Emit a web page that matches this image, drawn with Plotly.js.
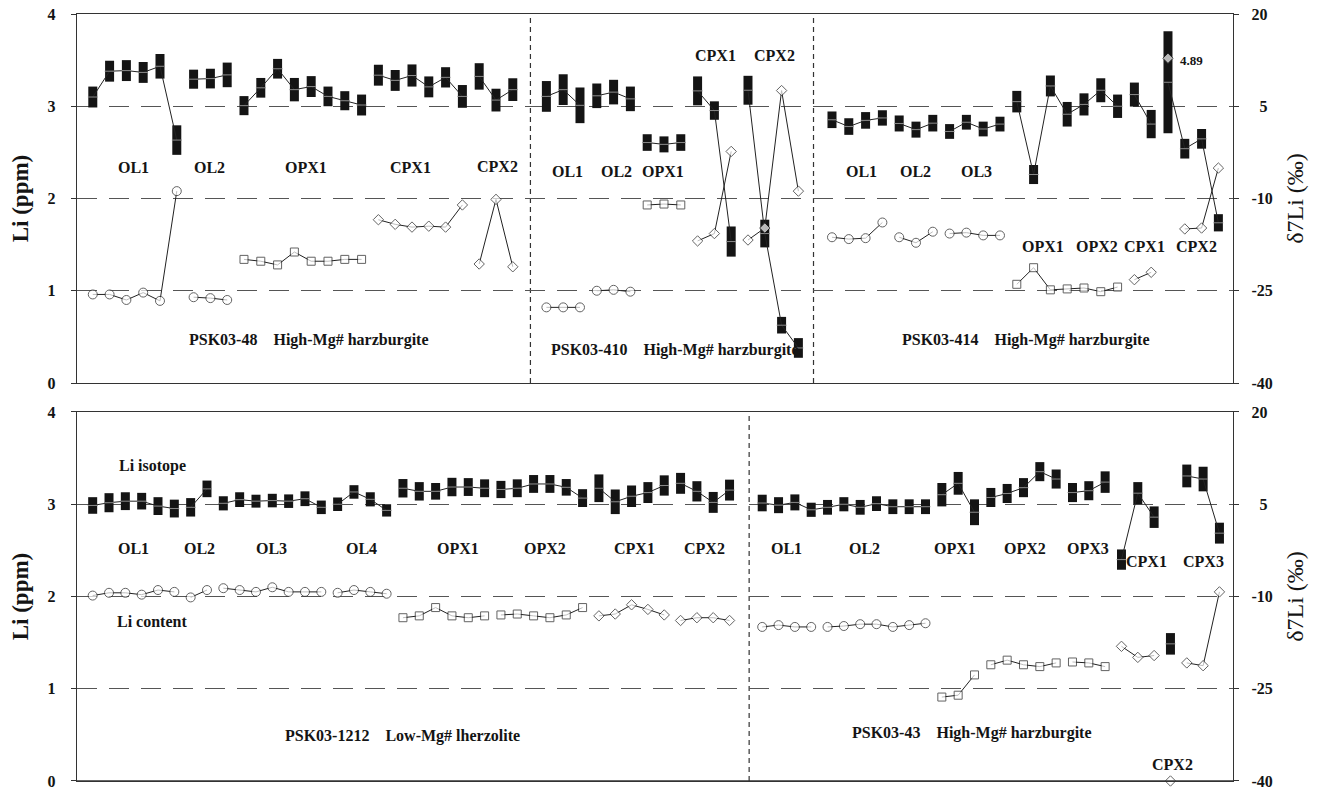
<!DOCTYPE html>
<html>
<head>
<meta charset="utf-8">
<script src="https://cdn.plot.ly/plotly-3.0.1.min.js"></script>
<style>html,body{margin:0;padding:0;background:#fff;overflow:hidden;}#chart{width:1320px;height:790px;}</style>
</head>
<body>
<div id="chart"></div>
<script>
// ---------------- TOP PANEL (PSK03-48 | PSK03-410 | PSK03-414) ----------------
const topPos = [1,2,3,4,5,6, 7,8,9, 10,11,12,13,14,15,16,17, 18,19,20,21,22,23, 24,25,26,
  28,29,30, 31,32,33, 34,35,36, 37,38,39, 40,41,42,43,
  45,46,47,48, 49,50,51, 52,53,54,55, 56,57,58,59,60,61,62, 63,64, 65,66,67,68];
const topMineral = ['OL','OL','OL','OL','OL','OL', 'OL','OL','OL', 'OPX','OPX','OPX','OPX','OPX','OPX','OPX','OPX', 'CPX','CPX','CPX','CPX','CPX','CPX', 'CPX','CPX','CPX',
  'OL','OL','OL', 'OL','OL','OL', 'OPX','OPX','OPX', 'CPX','CPX','CPX', 'CPX','CPX','CPX','CPX',
  'OL','OL','OL','OL', 'OL','OL','OL', 'OL','OL','OL','OL', 'OPX','OPX','OPX','OPX','OPX','OPX','OPX', 'CPX','CPX', 'CPX','CPX','CPX','CPX'];
const topLi = [0.96,0.96,0.90,0.98,0.89,2.08, 0.93,0.92,0.90, 1.34,1.32,1.28,1.42,1.32,1.32,1.34,1.34, 1.77,1.72,1.69,1.70,1.69,1.93, 1.29,1.99,1.26,
  0.82,0.82,0.82, 1.00,1.01,0.99, 1.93,1.94,1.93, 1.54,1.62,2.51, 1.55,1.68,3.17,2.08,
  1.58,1.56,1.57,1.74, 1.58,1.52,1.64, 1.62,1.63,1.60,1.60, 1.07,1.25,1.01,1.02,1.03,0.99,1.04, 1.12,1.20, 3.52,1.67,1.68,2.33];
const topD7 = [6.5,10.7,10.8,10.5,11.5,-0.5, 9.4,9.5,10.1, 5.1,8.0,11.1,7.7,8.2,6.6,5.9,5.2, 10.05,9.2,10.0,8.15,9.7,6.6, 9.85,6.0,7.7,
  6.6,7.7,5.15, 6.7,7.3,6.2, -0.9,-1.2,-0.9, 7.5,4.3,-17.0, 7.6,-15.7,-30.6,-34.3,
  2.8,1.7,2.7,3.1, 2.2,1.2,2.25, 0.9,2.4,1.3,2.1, 5.75,-6.1,8.3,3.7,5.3,7.6,5.0, 6.9,2.1, 8.9,-1.9,-0.3,-13.95];
const topD7Err = [1.7,1.7,1.7,1.7,2.0,2.4, 1.55,1.6,2.0, 1.55,1.6,1.6,1.9,1.7,1.6,1.55,1.7, 1.7,1.7,1.8,1.7,1.65,1.85, 2.15,1.85,1.85,
  2.5,2.5,2.9, 2.0,2.0,2.0, 1.35,1.3,1.35, 2.35,1.5,2.45, 2.35,2.25,1.35,1.6,
  1.35,1.35,1.35,1.25, 1.3,1.3,1.35, 1.2,1.2,1.2,1.2, 1.75,1.55,1.7,2.0,1.8,1.95,1.9, 1.95,2.3, 8.3,1.6,1.6,1.4];
// which points are joined by a line (same label = same joined run)
const topLiRun = ['a1','a1','a1','a1','a1','a1', 'a2','a2','a2', 'a3','a3','a3','a3','a3','a3','a3','a3', 'a4','a4','a4','a4','a4','a4', 'a5','a5','a5',
  'b1','b1','b1', 'b2','b2','b2', 'b3','b3','b3', 'b4','b4','b4', 'b5','b5','b5','b5',
  'c1','c1','c1','c1', 'c2','c2','c2', 'c3','c3','c3','c3', 'c4','c4','c4','c4','c4','c4','c4', 'c5','c5', 'c6','c7','c7','c7'];
const topIsoRun = ['a1','a1','a1','a1','a1','a1', 'a2','a2','a2', 'a3','a3','a3','a3','a3','a3','a3','a3', 'a4','a4','a4','a4','a4','a4', 'a5','a5','a5',
  'b1','b1','b1', 'b2','b2','b2', 'b3','b3','b3', 'b4','b4','b4', 'b5','b5','b5','b5',
  'c1','c1','c1','c1', 'c2','c2','c2', 'c3','c3','c3','c3', 'c4','c4','c4','c4','c4','c4','c4', 'c5','c5', 'c6','c6','c6','c6'];

// ---------------- BOTTOM PANEL (PSK03-1212 | PSK03-43) ----------------
const botPos = [1,2,3,4,5,6, 7,8, 9,10,11,12,13,14,15, 16,17,18,19, 20,21,22,23,24,25, 26,27,28,29,30,31, 32,33,34,35,36, 37,38,39,40,
  42,43,44,45, 46,47,48,49,50,51,52, 53,54,55, 56,57,58,59,60, 61,62,63, 64,65,66, 67, 68,69,70];
const botMineral = ['OL','OL','OL','OL','OL','OL', 'OL','OL', 'OL','OL','OL','OL','OL','OL','OL', 'OL','OL','OL','OL', 'OPX','OPX','OPX','OPX','OPX','OPX', 'OPX','OPX','OPX','OPX','OPX','OPX', 'CPX','CPX','CPX','CPX','CPX', 'CPX','CPX','CPX','CPX',
  'OL','OL','OL','OL', 'OL','OL','OL','OL','OL','OL','OL', 'OPX','OPX','OPX', 'OPX','OPX','OPX','OPX','OPX', 'OPX','OPX','OPX', 'CPX','CPX','CPX', 'CPX', 'CPX','CPX','CPX'];
const botLi = [2.01,2.04,2.04,2.02,2.07,2.05, 1.99,2.07, 2.09,2.07,2.05,2.10,2.05,2.05,2.05, 2.04,2.07,2.05,2.03, 1.77,1.79,1.88,1.79,1.77,1.79, 1.80,1.81,1.79,1.77,1.80,1.88, 1.79,1.81,1.91,1.86,1.80, 1.74,1.77,1.77,1.74,
  1.67,1.69,1.67,1.67, 1.67,1.68,1.70,1.70,1.67,1.69,1.71, 0.91,0.93,1.15, 1.26,1.31,1.26,1.24,1.28, 1.29,1.28,1.24, 1.46,1.34,1.36, 0.00, 1.28,1.25,2.05];
const botD7 = [4.8,5.25,5.5,5.5,4.7,4.3, 4.5,7.5, 5.15,5.75,5.5,5.6,5.5,5.9,4.5, 5.0,7.0,5.8,4.0, 7.6,7.1,7.1,7.8,7.8,7.6, 7.4,7.6,8.3,8.3,7.75,6.0, 7.6,5.4,6.3,6.9,8.05, 8.4,7.1,5.3,7.3,
  5.2,4.85,5.3,4.1, 4.5,5.0,4.5,5.1,4.6,4.6,4.6, 6.55,8.4,3.7, 6.1,6.75,7.7,10.3,9.1, 6.9,7.2,8.6, -4.0,6.8,2.9, -17.7, 9.6,9.1,0.3];
const botD7Err = [1.35,1.55,1.45,1.35,1.45,1.45, 1.5,1.35, 1.15,1.2,1.05,1.1,1.1,1.2,1.1, 1.1,1.1,1.15,1.0, 1.5,1.5,1.35,1.5,1.45,1.45, 1.4,1.45,1.45,1.45,1.35,1.45, 2.25,2.0,1.75,1.7,1.65, 1.7,1.65,1.7,1.7,
  1.35,1.3,1.3,1.15, 1.2,1.15,1.2,1.2,1.2,1.2,1.2, 1.9,1.85,2.1, 1.55,1.55,1.55,1.55,1.55, 1.55,1.55,1.75, 1.65,1.8,1.75, 1.75, 1.85,2.0,1.7];
const botLiRun = ['a1','a1','a1','a1','a1','a1', 'a2','a2', 'a3','a3','a3','a3','a3','a3','a3', 'a4','a4','a4','a4', 'a5','a5','a5','a5','a5','a5', 'a6','a6','a6','a6','a6','a6', 'a7','a7','a7','a7','a7', 'a8','a8','a8','a8',
  'b1','b1','b1','b1', 'b2','b2','b2','b2','b2','b2','b2', 'b3','b3','b3', 'b4','b4','b4','b4','b4', 'b5','b5','b5', 'b6','b6','b6', 'b7', 'b8','b8','b8'];
const botIsoRun = ['a1','a1','a1','a1','a1','a1', 'a2','a2', 'a3','a3','a3','a3','a3','a3','a3', 'a4','a4','a4','a4', 'a5','a5','a5','a5','a5','a5', 'a6','a6','a6','a6','a6','a6', 'a7','a7','a7','a7','a7', 'a8','a8','a8','a8',
  'b1','b1','b1','b1', 'b1','b1','b1','b1','b1','b1','b1', 'b3','b3','b3', 'b4','b4','b4','b4','b4', 'b5','b5','b5', 'b6','b6','b6', 'b7', 'b8','b8','b8'];

// ---------------- LABELS ----------------
const tickLi = [0,1,2,3,4];
const tickD7 = [-40,-25,-10,5,20];
const tickD7Text = ['-40','-25','-10','\u20075','20'];

const FONT = '"Liberation Serif", "Times New Roman", serif';
const INK = '#141414';
const symbolOf = {OL:'circle', OPX:'square', CPX:'diamond'};
const sizeOf = {OL:9, OPX:8, CPX:8};

function runs(labels){
  const out = []; let s = 0;
  for (let i = 1; i <= labels.length; i++){
    if (i === labels.length || labels[i] !== labels[s]){ out.push([s, i]); s = i; }
  }
  return out;
}

function panelTraces(pos, mineral, li, d7, err, liRun, isoRun, xa, yD7, yLi){
  const tr = [];
  runs(isoRun).forEach(([a,b]) => {
    tr.push({
      type:'scatter', mode:'lines+markers', xaxis:xa, yaxis:yD7, hoverinfo:'skip', showlegend:false,
      x:pos.slice(a,b), y:d7.slice(a,b),
      line:{color:'#222', width:1},
      error_y:{type:'data', array:err.slice(a,b), visible:true, thickness:9, width:0, color:INK},
      marker:{symbol:'line-ew', size:7, line:{color:'#8a8a8a', width:1}}
    });
  });
  runs(liRun).forEach(([a,b]) => {
    tr.push({
      type:'scatter', mode:'lines+markers', xaxis:xa, yaxis:yLi, hoverinfo:'skip', showlegend:false, cliponaxis:false,
      x:pos.slice(a,b), y:li.slice(a,b),
      line:{color:'#222', width:1},
      marker:{symbol:mineral.slice(a,b).map(m=>symbolOf[m]), size:mineral.slice(a,b).map(m=>sizeOf[m]),
              color:'#ffffff', line:{color:'#222', width:1}}
    });
  });
  return tr;
}

const data = [].concat(
  panelTraces(topPos, topMineral, topLi, topD7, topD7Err, topLiRun, topIsoRun, 'x', 'y', 'y2'),
  panelTraces(botPos, botMineral, botLi, botD7, botD7Err, botLiRun, botIsoRun, 'x2', 'y3', 'y4')
);

const tickFont = {family:FONT, size:16, color:INK, weight:'bold'};
function xAxis(range, anchor){
  return {range:range, anchor:anchor, domain:[0,1], showline:true, mirror:true, linecolor:'#333', linewidth:1.3,
          showgrid:false, zeroline:false, showticklabels:false, ticks:''};
}
function d7Axis(domain, anchor){
  return {domain:domain, anchor:anchor, side:'right', range:[-40,20], tickvals:tickD7, ticktext:tickD7Text,
          ticks:'outside', ticklen:5, tickcolor:'#333', showline:true, linecolor:'#333', linewidth:1.3,
          showgrid:true, gridcolor:'#555', gridwidth:1, griddash:'20px,12px', zeroline:false,
          tickfont:tickFont, ticklabelstandoff:9, ticklabeloverflow:'allow',
          title:{text:'δ7Li (‰)', font:{family:FONT, size:24, color:INK}, standoff:14}};
}
function liAxis(over, anchor){
  return {overlaying:over, anchor:anchor, side:'left', range:[0,4], tickvals:tickLi,
          ticks:'outside', ticklen:5, tickcolor:'#333', showline:true, linecolor:'#333', linewidth:1.3,
          showgrid:false, zeroline:false, tickfont:tickFont, ticklabelstandoff:12, ticklabeloverflow:'allow',
          title:{text:'Li (ppm)', font:{family:FONT, size:23, color:INK, weight:'bold'}, standoff:12}};
}

function lab(text, xref, yref, x, y, size, xanchor){
  return {text:text, xref:xref, yref:yref, x:x, y:y, showarrow:false, xanchor:xanchor||'center', yanchor:'middle',
          font:{family:FONT, size:size||16, color:INK, weight:'bold'}};
}
const SP = '\u00a0\u00a0\u00a0\u00a0';
const annotations = [
  lab('OL1','x','y2',3.45,2.34), lab('OL2','x','y2',7.92,2.34), lab('OPX1','x','y2',13.69,2.34),
  lab('CPX1','x','y2',19.94,2.34), lab('CPX2','x','y2',25.06,2.35),
  lab('OL1','x','y2',29.27,2.29), lab('OL2','x','y2',32.18,2.29), lab('OPX1','x','y2',34.96,2.29),
  lab('CPX1','x','y2',38.04,3.55), lab('CPX2','x','y2',41.57,3.55),
  lab('OL1','x','y2',46.77,2.29), lab('OL2','x','y2',50.0,2.29), lab('OL3','x','y2',53.6,2.29),
  lab('OPX1','x','y2',57.58,1.48), lab('OPX2','x','y2',60.76,1.48), lab('CPX1','x','y2',63.63,1.48), lab('CPX2','x','y2',66.71,1.48),
  lab('PSK03-48'+SP+'High-Mg# harzburgite','x','y2',13.87,0.47),
  lab('PSK03-410'+SP+'High-Mg# harzburgite','x','y2',35.64,0.36),
  lab('PSK03-414'+SP+'High-Mg# harzburgite','x','y2',56.54,0.47),
  lab('4.89','x','y2',65.62,3.50,13,'left'),

  lab('Li isotope','x2','y4',4.69,3.415), lab('Li content','x2','y4',4.61,1.73),
  lab('OL1','x2','y4',3.47,2.515), lab('OL2','x2','y4',7.57,2.515), lab('OL3','x2','y4',11.96,2.515), lab('OL4','x2','y4',17.47,2.515),
  lab('OPX1','x2','y4',23.37,2.515), lab('OPX2','x2','y4',28.7,2.515), lab('CPX1','x2','y4',34.15,2.515), lab('CPX2','x2','y4',38.45,2.515),
  lab('OL1','x2','y4',43.5,2.515), lab('OL2','x2','y4',48.29,2.515), lab('OPX1','x2','y4',53.8,2.515), lab('OPX2','x2','y4',58.09,2.515), lab('OPX3','x2','y4',61.97,2.515),
  lab('CPX1','x2','y4',65.54,2.374), lab('CPX3','x2','y4',69.01,2.374), lab('CPX2','x2','y4',67.13,0.177),
  lab('PSK03-1212'+SP+'Low-Mg# lherzolite','x2','y4',20.0,0.49),
  lab('PSK03-43'+SP+'High-Mg# harzburgite','x2','y4',54.83,0.52)
];

function sep(xref, yref, x){
  return {type:'line', xref:xref, yref:yref, x0:x, x1:x, y0:0, y1:1, layer:'below', line:{color:'#333', width:1.2, dash:'5px,4px'}};
}
// solid frame line along the bottom of the lower panel
const bottomFrame = {type:'line', xref:'x2 domain', yref:'y3 domain', x0:0, x1:1, y0:0, y1:0, layer:'above', line:{color:'#333', width:1.3}};

const layout = {
  width:1320, height:790, margin:{l:77, r:87, t:14, b:9}, paper_bgcolor:'#fff', plot_bgcolor:'#fff',
  showlegend:false, font:{family:FONT, color:INK},
  xaxis: xAxis([0.06,68.87], 'y'),
  yaxis: d7Axis([0.5189,1], 'x'),
  yaxis2: liAxis('y', 'x'),
  xaxis2: xAxis([0.04,70.83], 'y3'),
  yaxis3: d7Axis([0,0.4811], 'x2'),
  yaxis4: liAxis('y3', 'x2'),
  shapes:[sep('x','y domain',27.05), sep('x','y domain',43.9), sep('x2','y3 domain',41.2), bottomFrame],
  annotations: annotations
};

Plotly.newPlot('chart', data, layout, {staticPlot:true, displayModeBar:false});
</script>
</body>
</html>
